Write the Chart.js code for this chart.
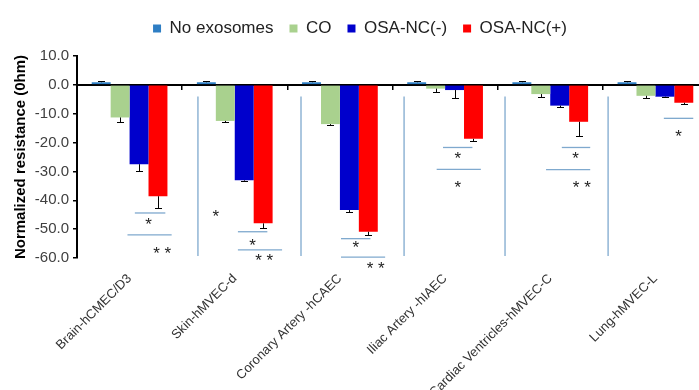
<!DOCTYPE html>
<html>
<head>
<meta charset="utf-8">
<script src="https://cdn.jsdelivr.net/npm/chart.js@4.4.0/dist/chart.umd.min.js"></script>
<style>
  html, body { margin: 0; padding: 0; background: #fff; overflow: hidden; }
  .wrap { width: 699px; height: 390px; overflow: hidden; }
</style>
</head>
<body>
<div class="wrap"><canvas id="myChart" width="712" height="390"></canvas></div>
<script>
const LABELS = [
  "Brain-hCMEC/D3",
  "Skin-hMVEC-d",
  "Coronary Artery -hCAEC",
  "Iliac Artery -hIAEC",
  "Cardiac Ventricles-hMVEC-C",
  "Lung-hMVEC-L",
];
const SERIES = ["No exosomes", "CO", "OSA-NC(-)", "OSA-NC(+)"];
const COLORS = ["#2E7EC4", "#A9D18E", "#0000CC", "#FF0000"];

const NO_EXO = [0.9, 0.9, 0.9, 0.9, 0.9, 0.9];
const NO_EXO_ERR = [0.3, 0.3, 0.3, 0.3, 0.3, 0.3];
const CO = [-11.3, -12.5, -13.6, -1.3, -3.2, -3.8];
const CO_ERR = [1.5, 0.5, 0.3, 1.1, 0.9, 0.7];
const NC_NEG = [-27.5, -33.1, -43.4, -1.8, -7.2, -4.1];
const NC_NEG_ERR = [2.5, 0.2, 0.6, 2.9, 0.6, 0.2];
const NC_POS = [-38.6, -48.0, -50.9, -18.7, -12.8, -6.2];
const NC_POS_ERR = [4.0, 1.5, 1.1, 0.6, 4.8, 0.6];

const Y_TICKS = [10, 0, -10, -20, -30, -40, -50, -60];

// significance marks, x in category units, y in ohm
const SEPARATORS = [0.65, 1.63, 2.61, 3.57, 4.55];
const SEP_RANGE = [-4, -59.3];
const SIG_LINES = [
  [0.05, 0.34, -44.4], [-0.02, 0.4, -52],
  [1.03, 1.31, -50.9], [1.03, 1.45, -57.2],
  [2.01, 2.29, -53.3], [2.01, 2.43, -59.7],
  [2.98, 3.26, -21.7], [2.92, 3.34, -29.3],
  [4.11, 4.38, -21.7], [3.96, 4.38, -29.4],
  [5.08, 5.36, -11.6],
];
const SIG_MARKS = [
  [0.18, -46.9, "*"], [0.31, -57, "* *"],
  [0.82, -44, "*"], [1.17, -54, "*"], [1.28, -59.3, "* *"],
  [2.15, -54.7, "*"], [2.34, -62, "* *"],
  [3.12, -24, "*"], [3.12, -34, "*"],
  [4.24, -23.8, "*"], [4.3, -34, "* *"],
  [5.22, -16.2, "*"],
];

const FONT = "'Liberation Sans', Arial, sans-serif";

// 범례 아래 여백
const legendGap = {
  id: "legendGap",
  beforeInit(chart) {
    const fit = chart.legend.fit;
    chart.legend.fit = function () {
      fit.bind(chart.legend)();
      this.height += 9;
    };
  },
};

// 에러바
const errorBars = {
  id: "errorBars",
  afterDatasetsDraw(chart) {
    const { ctx } = chart;
    const y = chart.scales.y;
    ctx.save();
    ctx.strokeStyle = "#000";
    ctx.lineWidth = 1;
    chart.data.datasets.forEach((ds, i) => {
      chart.getDatasetMeta(i).data.forEach((bar, j) => {
        const v = ds.data[j];
        const e = ds.errors[j];
        const end = Math.round(y.getPixelForValue(v < 0 ? v - e : v + e)) + 0.5;
        const x = Math.round(bar.x) + 0.5;
        ctx.beginPath();
        ctx.moveTo(x, bar.y);
        ctx.lineTo(x, end);
        ctx.moveTo(x - 3.5, end);
        ctx.lineTo(x + 3.5, end);
        ctx.stroke();
      });
    });
    ctx.restore();
  },
};

// 구분선 + 유의성 표시
const sigMarks = {
  id: "sigMarks",
  afterDraw(chart) {
    const { ctx } = chart;
    const x = chart.scales.x;
    const y = chart.scales.y;
    ctx.save();
    ctx.strokeStyle = "#7FA9CE";
    ctx.lineWidth = 1.3;
    SEPARATORS.forEach((s) => {
      const px = x.getPixelForValue(s);
      ctx.beginPath();
      ctx.moveTo(px, y.getPixelForValue(SEP_RANGE[0]));
      ctx.lineTo(px, y.getPixelForValue(SEP_RANGE[1]));
      ctx.stroke();
    });
    SIG_LINES.forEach(([a, b, v]) => {
      const py = y.getPixelForValue(v);
      ctx.beginPath();
      ctx.moveTo(x.getPixelForValue(a), py);
      ctx.lineTo(x.getPixelForValue(b), py);
      ctx.stroke();
    });
    ctx.fillStyle = "#222";
    ctx.font = "17px " + FONT;
    ctx.textAlign = "center";
    ctx.textBaseline = "alphabetic";
    SIG_MARKS.forEach(([a, v, t]) => {
      ctx.fillText(t, x.getPixelForValue(a), y.getPixelForValue(v) + 10);
    });
    ctx.restore();
  },
};

const makeSet = (i, data, errors) => ({
  label: SERIES[i],
  data: data,
  errors: errors,
  backgroundColor: COLORS[i],
  borderWidth: 0,
  xAxisID: "x",
  yAxisID: "y",
});

const ctx = document.getElementById("myChart").getContext("2d");
const myChart = new Chart(ctx, {
  type: "bar",
  data: {
    labels: LABELS,
    datasets: [
      makeSet(0, NO_EXO, NO_EXO_ERR),
      makeSet(1, CO, CO_ERR),
      makeSet(2, NC_NEG, NC_NEG_ERR),
      makeSet(3, NC_POS, NC_POS_ERR),
    ],
  },
  plugins: [legendGap, errorBars, sigMarks],
  options: {
    responsive: false,
    animation: false,
    layout: { padding: { top: 4, right: 4, left: 12, bottom: 0 } },
    datasets: { bar: { barPercentage: 1, categoryPercentage: 0.72 } },
    plugins: {
      legend: {
        labels: {
          font: { family: FONT, size: 17 },
          color: "#222",
          boxWidth: 8,
          boxHeight: 8,
          padding: 16,
        },
      },
      tooltip: { enabled: false },
    },
    scales: {
      x: {
        type: "category",
        position: "bottom",
        offset: true,
        border: { display: false },
        grid: { display: false },
        ticks: {
          font: { family: FONT, size: 13 },
          color: "#333",
          minRotation: 45,
          maxRotation: 45,
          autoSkip: false,
          padding: 5,
        },
        afterFit: (s) => { s.height = 132; },
      },
      x2: {
        type: "category",
        position: { y: 0 },
        offset: true,
        z: 1,
        border: { display: true, color: "#000", width: 2 },
        grid: { offset: true, drawOnChartArea: false, drawTicks: true, tickLength: 4, color: "#000", lineWidth: 1.5 },
        ticks: { display: false },
      },
      y: {
        min: -60,
        max: 10,
        afterBuildTicks: (s) => { s.ticks = Y_TICKS.map((v) => ({ value: v })); },
        border: { display: true, color: "#000", width: 2 },
        grid: { drawOnChartArea: false, drawTicks: true, tickLength: 4, color: "#000", lineWidth: 1.5 },
        ticks: {
          font: { family: FONT, size: 15 },
          color: "#404040",
          padding: 4,
          callback: (v) => Number(v).toFixed(1),
        },
        title: {
          display: true,
          text: "Normalized resistance (0hm)",
          font: { family: FONT, size: 15, weight: "bold" },
          color: "#000",
          padding: { top: 0, bottom: 0 },
        },
        afterFit: (s) => { s.width = 65; },
      },
    },
  },
});
</script>
</body>
</html>
